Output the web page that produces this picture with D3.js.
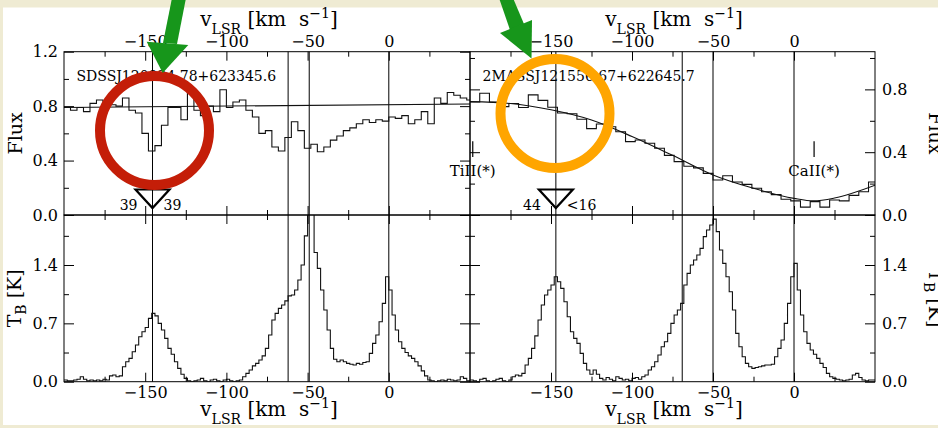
<!DOCTYPE html>
<html>
<head>
<meta charset="utf-8">
<script src="https://cdn.jsdelivr.net/npm/d3@7"></script>
<style>
  html, body { margin: 0; padding: 0; background: #efebd3; }
  svg { display: block; }
  text { font-family: "DejaVu Serif", serif; fill: #000; }
</style>
</head>
<body>
<svg id="chart" width="938" height="428"></svg>
<script>
// ---------- data ----------
const velDomain = [-200, 50];
const velMajor = [-150, -100, -50, 0];
const velMinor = [-175, -125, -75, -25, 25];

const fluxMajorA = [0, 0.4, 0.8, 1.2];
const fluxMinorA = [0.2, 0.6, 1.0];
const fluxMajorB = [0, 0.4, 0.8];
const fluxMinorB = [0.2, 0.6, 1.0];
const tbMajor = [0, 0.7, 1.4];
const tbMinor = [0.35, 1.05, 1.75];

// absorption spectrum, SDSS sightline (4 km/s bins starting at -200)
const fluxBinA = 4;
const fluxA = [0.79,0.77,0.79,0.76,0.82,0.845,0.79,0.81,0.80,0.86,0.77,0.75,0.60,0.47,0.51,0.66,0.79,
  0.79,0.70,0.91,0.77,0.73,0.80,0.76,0.92,0.79,
  0.83,0.845,0.77,0.72,0.60,0.62,0.50,0.47,
  0.57,0.685,0.62,0.49,0.52,0.465,0.50,0.55,0.58,0.62,0.64,0.67,0.70,0.68,0.70,0.69,
  0.72,0.71,0.73,0.67,0.70,0.76,0.67,0.86,0.82,0.90,0.88,0.86,0.845];
const contVelA = [-200, 50];
const contA = [0.790, 0.816];

// absorption spectrum, 2MASS sightline (6 km/s bins starting at -200)
const fluxBinB = 6;
const fluxB = [0.72,0.775,0.72,0.69,0.71,0.685,0.765,0.73,0.686,0.65,
  0.645,0.61,0.55,0.58,0.562,0.53,0.467,0.478,0.457,0.425,
  0.38,0.34,0.31,0.30,0.265,0.223,0.25,0.21,0.195,0.17,
  0.148,0.13,0.10,0.09,0.05,0.085,0.05,0.096,0.09,0.125,
  0.148,0.21];
const contVelB = [-200,-175,-150,-125,-100,-75,-50,-25,0,12,25,50];
const contB = [0.722,0.71,0.67,0.605,0.50,0.38,0.255,0.17,0.106,0.09,0.108,0.19];

// HI 21-cm emission (2 km/s channels starting at -200)
const hiBin = 2;
const hiA = [0.02,0.01,0.01,0.02,0.03,0.06,0.03,0.01,0.02,0.01,0.02,0.01,0.03,0.02,0.07,0.08,0.06,0.07,0.18,0.24,0.28,0.36,0.44,0.54,0.60,
  0.65,0.76,0.82,0.79,0.70,0.62,0.52,0.40,0.33,0.24,0.16,0.09,0.04,0.01,0.00,0.01,0.02,0.04,0.01,0.00,0.02,0.03,0.01,0.00,0.02,
  0.03,0.01,0.00,0.01,0.02,0.06,0.10,0.14,0.19,0.22,0.26,0.31,0.40,0.56,0.74,0.82,0.88,0.92,0.97,1.03,1.04,1.10,1.22,1.40,1.75,
  2.40,2.20,1.55,1.36,1.10,0.86,0.62,0.40,0.27,0.24,0.26,0.24,0.22,0.21,0.20,0.22,0.21,0.23,0.24,0.34,0.46,0.56,0.72,0.94,1.26,
  1.10,0.80,0.62,0.48,0.40,0.35,0.31,0.28,0.24,0.19,0.13,0.07,0.02,0.01,0.00,0.01,0.02,0.01,0.03,0.02,0.01,0.02,0.06,0.04,0.01,0.01];
const hiB = [0.02,0.01,0.00,0.03,0.04,0.01,0.00,0.01,0.03,0.04,0.01,0.00,0.02,0.06,0.08,0.07,0.10,0.20,0.28,0.40,0.55,0.74,0.92,1.04,1.10,
  1.16,1.26,1.20,1.12,0.96,0.78,0.60,0.52,0.46,0.34,0.22,0.14,0.09,0.14,0.09,0.04,0.02,0.05,0.03,0.01,0.06,0.04,0.02,0.03,0.01,
  0.04,0.05,0.03,0.06,0.08,0.14,0.18,0.24,0.32,0.42,0.48,0.58,0.70,0.80,0.86,0.94,1.16,1.30,1.40,1.46,1.52,1.60,1.74,1.82,1.88,
  1.95,1.80,1.58,1.42,1.26,1.08,0.86,0.58,0.42,0.30,0.22,0.18,0.16,0.17,0.18,0.19,0.20,0.20,0.21,0.30,0.40,0.50,0.70,0.94,1.26,
  1.42,1.10,0.80,0.60,0.46,0.38,0.33,0.28,0.22,0.17,0.10,0.06,0.04,0.03,0.02,0.01,0.02,0.03,0.08,0.10,0.05,0.02,0.01,0.02,0.02,0.02];

// component velocities marked by vertical lines
const linesA = [-145.5, -62, -49, 0];
const linesB = [-147, -69, -50, 0];
const nameA = "SDSSJ120924.78+623345.6";
const nameB = "2MASSJ121556.67+622645.7";
const triLabelsA = ["39", "39"];
const triLabelsB = ["44", "<16"];
const ionLabels = ["TiII(*)", "CaII(*)"];
const ionVel = [-198.3, 12.4];
const ionFlux = [0.37, 0.37];

// ---------- layout ----------
const W = 938, H = 428;
const yTop = 51.7, yMid = 215, yBot = 381.7;
const svg = d3.select("#chart");
svg.append("rect").attr("width", W).attr("height", H).attr("fill", "#efebd3");
svg.append("rect").attr("x", 3).attr("y", 7.5).attr("width", W - 3).attr("height", H - 10.5).attr("fill", "#fff");

const xA = d3.scaleLinear().domain(velDomain).range([64, 470]);
const xB = d3.scaleLinear().domain(velDomain).range([470, 875]);
const fA = d3.scaleLinear().domain([0, 1.2]).range([yMid, yTop]);
const fB = d3.scaleLinear().domain([0, 1.04]).range([yMid, yTop]);
const tA = d3.scaleLinear().domain([0, 2]).range([yBot, yMid]);
const tB = tA.copy();

const defs = svg.append("defs");
function clip(id, x0, x1, y0, y1) {
  defs.append("clipPath").attr("id", id).append("rect")
    .attr("x", x0).attr("y", y0).attr("width", x1 - x0).attr("height", y1 - y0);
  return "url(#" + id + ")";
}

function axis(gen, scale, vals, size, fmt, pad, tr) {
  const a = gen(scale).tickValues(vals).tickSizeInner(size).tickSizeOuter(0).tickPadding(pad)
    .tickFormat(fmt || (() => ""));
  const g = svg.append("g").attr("transform", tr).call(a);
  g.attr("font-family", "DejaVu Serif, serif").attr("font-size", 16);
  g.select(".domain").remove();
  g.selectAll("line").attr("stroke", "#000").attr("stroke-width", 1);
  g.selectAll("text").attr("fill", "#000");
  return g;
}

const fmtVel = d3.format("d");
const fmt1 = d3.format(".1f");

function steps(vals, bin) {
  const pts = vals.map((v, i) => [velDomain[0] + i * bin, v]);
  pts.push([velDomain[0] + vals.length * bin, vals[vals.length - 1]]);
  return pts;
}

function panel(o) {
  const [x0, x1] = o.x.range();
  const [y0, y1] = [o.y.range()[1], o.y.range()[0]];
  // vertical component lines
  svg.append("g").selectAll("line").data(o.lines).join("line")
    .attr("x1", d => o.x(d)).attr("x2", d => o.x(d))
    .attr("y1", y0).attr("y2", y1)
    .attr("stroke", "#000").attr("stroke-width", 1);
  // spectrum
  const cp = clip(o.id, x0, x1, y0, y1);
  const gd = svg.append("g").attr("clip-path", cp);
  gd.append("path").datum(steps(o.vals, o.bin))
    .attr("d", d3.line().x(d => o.x(d[0])).y(d => o.y(d[1])).curve(d3.curveStepAfter))
    .attr("fill", "none").attr("stroke", "#111").attr("stroke-width", 1.1);
  if (o.cont) {
    gd.append("path").datum(o.contVel.map((v, i) => [v, o.cont[i]]))
      .attr("d", d3.line().x(d => o.x(d[0])).y(d => o.y(d[1])).curve(d3.curveMonotoneX))
      .attr("fill", "none").attr("stroke", "#111").attr("stroke-width", 1.1);
  }
  // frame
  svg.append("rect").attr("x", x0).attr("y", y0).attr("width", x1 - x0).attr("height", y1 - y0)
    .attr("fill", "none").attr("stroke", "#000").attr("stroke-width", 1);
  // x ticks
  axis(d3.axisTop, o.x, velMajor, -9, o.topLabels ? fmtVel : null, 5, `translate(0,${y0})`);
  axis(d3.axisTop, o.x, velMinor, -5, null, 5, `translate(0,${y0})`);
  axis(d3.axisBottom, o.x, velMajor, -9, o.bottomLabels ? fmtVel : null, 5, `translate(0,${y1})`);
  axis(d3.axisBottom, o.x, velMinor, -5, null, 5, `translate(0,${y1})`);
  // y ticks
  axis(d3.axisLeft, o.y, o.major, -10, o.leftLabels ? o.fmt : null, 6, `translate(${x0},0)`);
  axis(d3.axisLeft, o.y, o.minor, -5, null, 6, `translate(${x0},0)`);
  axis(d3.axisRight, o.y, o.major, -10, o.rightLabels ? o.fmt : null, 7, `translate(${x1},0)`);
  axis(d3.axisRight, o.y, o.minor, -5, null, 7, `translate(${x1},0)`);
}

panel({id: "cA", x: xA, y: fA, vals: fluxA, bin: fluxBinA, cont: contA, contVel: contVelA,
  lines: linesA, major: fluxMajorA, minor: fluxMinorA, fmt: fmt1, topLabels: true, leftLabels: true});
panel({id: "cB", x: xB, y: fB, vals: fluxB, bin: fluxBinB, cont: contB, contVel: contVelB,
  lines: linesB, major: fluxMajorB, minor: fluxMinorB, fmt: fmt1, topLabels: true, rightLabels: true});
panel({id: "cC", x: xA, y: tA, vals: hiA, bin: hiBin,
  lines: linesA, major: tbMajor, minor: tbMinor, fmt: fmt1, bottomLabels: true, leftLabels: true});
panel({id: "cD", x: xB, y: tB, vals: hiB, bin: hiBin,
  lines: linesB, major: tbMajor, minor: tbMinor, fmt: fmt1, bottomLabels: true, rightLabels: true});

// ---------- labels inside the flux panels ----------
svg.append("text").attr("x", 76.5).attr("y", 81).attr("font-size", 14).text(nameA);
svg.append("text").attr("x", 482.5).attr("y", 81).attr("font-size", 14).text(nameB);

function triangle(x, v, labels) {
  const cx = x(v);
  svg.append("path")
    .attr("d", `M${cx - 17},${yMid - 25.5}L${cx + 17},${yMid - 25.5}L${cx},${yMid - 7}Z`)
    .attr("fill", "none").attr("stroke", "#000").attr("stroke-width", 2.2).attr("stroke-linejoin", "miter");
  svg.append("text").attr("x", cx - 15).attr("y", yMid - 5.5).attr("text-anchor", "end").attr("font-size", 14).text(labels[0]);
  svg.append("text").attr("x", cx + 11).attr("y", yMid - 5.5).attr("font-size", 14).text(labels[1]);
}
triangle(xA, linesA[0], triLabelsA);
triangle(xB, linesB[0], triLabelsB);

ionLabels.forEach((lab, i) => {
  const cx = xB(ionVel[i]);
  svg.append("line").attr("x1", cx).attr("x2", cx)
    .attr("y1", fB(ionFlux[i] + 0.1)).attr("y2", fB(ionFlux[i]))
    .attr("stroke", "#000").attr("stroke-width", 1.2);
  svg.append("text").attr("x", cx).attr("y", 176).attr("text-anchor", "middle").attr("font-size", 15).text(lab);
});

// ---------- axis titles ----------
function velTitle(cx, base) {
  const t = svg.append("text").attr("x", cx).attr("y", base).attr("text-anchor", "middle").attr("font-size", 20);
  t.append("tspan").text("v");
  t.append("tspan").attr("font-size", 14).attr("dy", 8).text("LSR");
  t.append("tspan").attr("dy", -8).text(" [km\u00a0 s");
  t.append("tspan").attr("font-size", 14).attr("dy", -8).text("\u22121");
  t.append("tspan").attr("dy", 8).text("]");
}
velTitle(269, 26);
velTitle(674, 26);
velTitle(269, 415.5);
velTitle(674, 415.5);

function yTitle(x, cy, rot, main, sub, rest) {
  const t = svg.append("text").attr("transform", `translate(${x},${cy}) rotate(${rot})`)
    .attr("text-anchor", "middle").attr("font-size", 19);
  t.append("tspan").text(main);
  if (sub) {
    t.append("tspan").attr("font-size", 14).attr("dy", 5).text(sub);
    t.append("tspan").attr("dy", -5).text(rest);
  }
}
yTitle(22, (yTop + yMid) / 2, -90, "Flux");
yTitle(21, (yMid + yBot) / 2, -90, "T", "B", " [K]");
yTitle(929, (yTop + yMid) / 2, 90, "Flux");
yTitle(929, (yMid + yBot) / 2, 90, "T", "B", " [K]");

// ---------- highlight overlays ----------
const ov = svg.append("g");
ov.append("circle").attr("cx", 154.5).attr("cy", 130.5).attr("r", 54.5)
  .attr("fill", "none").attr("stroke", "#c41e08").attr("stroke-width", 10);
ov.append("circle").attr("cx", 555).attr("cy", 113.5).attr("r", 54.5)
  .attr("fill", "none").attr("stroke", "#ffa500").attr("stroke-width", 10);
const green = "#17961b";
ov.append("polygon").attr("points", "172,-2 186,-2 177,44 163,43").attr("fill", green);
ov.append("polygon").attr("points", "146.7,41.7 188.3,45 162.7,73").attr("fill", green);
ov.append("polygon").attr("points", "499,-2 513,-2 524,24 510,30").attr("fill", green);
ov.append("polygon").attr("points", "500,33 532,20 531.5,58.5").attr("fill", green);
</script>
</body>
</html>
